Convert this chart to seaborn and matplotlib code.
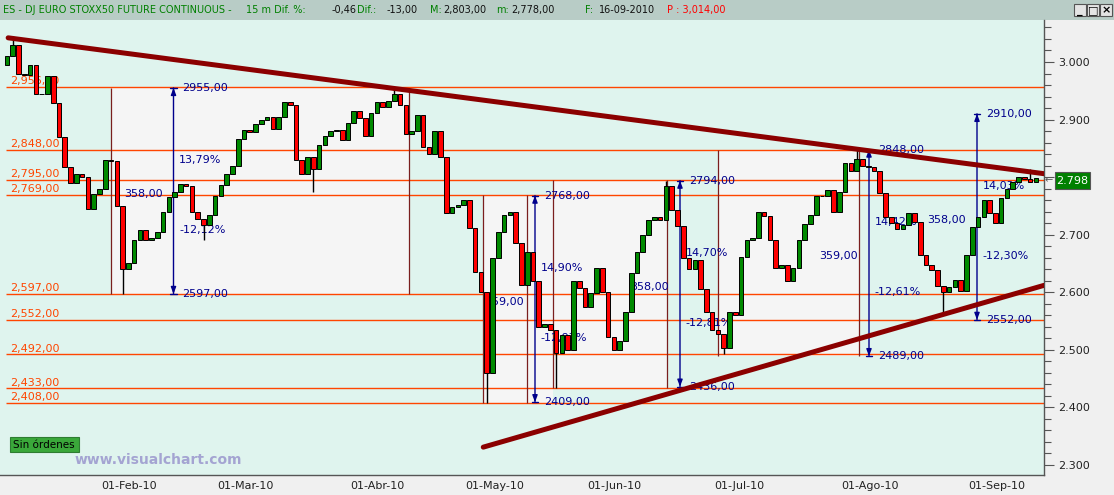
import numpy as np
import pandas as pd
import matplotlib
matplotlib.use("Agg")
import matplotlib.pyplot as plt
import seaborn as sns
from matplotlib import font_manager as fm
from matplotlib.ticker import FuncFormatter, MultipleLocator
from matplotlib.patches import Rectangle

sns.set_style("white")
_names = {f.name for f in fm.fontManager.ttflist}
NARROW = "Liberation Sans Narrow" if "Liberation Sans Narrow" in _names else "DejaVu Sans"
plt.rcParams["font.family"] = [NARROW, "DejaVu Sans"]
FS = 10 if NARROW != "DejaVu Sans" else 8

# ---------------- data ----------------
holidays = ["2010-04-02", "2010-04-05"]
dates = pd.bdate_range("2010-01-08", "2010-09-17").drop(pd.to_datetime(holidays))
month_labels = ["01-Feb-10", "01-Mar-10", "01-Abr-10", "01-May-10",
                "01-Jun-10", "01-Jul-10", "01-Ago-10", "01-Sep-10"]

start_open = 2995
closes = [
    3010, 3030, 2980, 2978, 2995, 2945, 2945, 2975, 2928, 2870,
    2818, 2790, 2805, 2800, 2745, 2770, 2780, 2830, 2828, 2750,
    2640, 2650, 2690, 2708, 2690, 2695, 2705, 2739, 2765, 2775,
    2788, 2784, 2739, 2728, 2717, 2735, 2768, 2786, 2805, 2820,
    2866, 2882, 2878, 2893, 2900, 2905, 2884, 2905, 2930, 2925,
    2830, 2805, 2835, 2815, 2855, 2872, 2880, 2882, 2864, 2894,
    2915, 2902, 2872, 2912, 2930, 2922, 2933, 2945, 2926, 2875,
    2880, 2908, 2852, 2840, 2880, 2835, 2738, 2748, 2752, 2760,
    2712, 2635, 2600, 2460, 2660, 2705, 2735, 2740, 2685, 2612,
    2670, 2620, 2540, 2545, 2535, 2495, 2525, 2500, 2620, 2607,
    2575, 2598, 2642, 2600, 2522, 2500, 2515, 2565, 2633, 2670,
    2700, 2726, 2730, 2726, 2785, 2743, 2715, 2660, 2640, 2656,
    2605, 2565, 2535, 2528, 2503, 2565, 2560, 2662, 2690, 2695,
    2740, 2733, 2690, 2642, 2648, 2620, 2642, 2690, 2718, 2735,
    2768, 2768, 2777, 2740, 2775, 2824, 2810, 2832, 2820, 2817,
    2810, 2772, 2730, 2720, 2710, 2716, 2737, 2722, 2664, 2648,
    2639, 2611, 2601, 2610, 2621, 2602, 2665, 2714, 2730, 2760,
    2737, 2721, 2763, 2780, 2792, 2800, 2796, 2791, 2798,
]
# extreme wick values (day index, price)
wick_days = [1, 20, 34, 53, 67, 83, 95, 114, 124, 147, 162, 177]
wick_vals = [3045, 2597, 2690, 2775, 2955, 2408, 2433, 2794, 2492, 2848, 2560, 2815]

levels = [2956, 2848, 2795, 2769, 2597, 2552, 2492, 2433, 2408]

meas_top = [2955, 2768, 2794, 2848, 2910]
meas_bot = [2597, 2409, 2436, 2489, 2552]
meas_up = ["13,79%", "14,90%", "14,70%", "14,42%", "14,03%"]
meas_diff = ["358,00", "359,00", "358,00", "359,00", "358,00"]
meas_down = ["-12,12%", "-12,97%", "-12,81%", "-12,61%", "-12,30%"]

trend_top_x = [0.2, 179.4]
trend_top_y = [3042, 2806]
trend_bot_x = [82.4, 179.4]
trend_bot_y = [2331, 2612]

last_price = "2.798"
title_parts = [("ES - DJ EURO STOXX50 FUTURE CONTINUOUS -", "g"), ("15 m Dif. %:", "g"),
               ("-0,46", "k"), ("Dif.:", "g"), ("-13,00", "k"), ("M:", "g"),
               ("2,803,00", "k"), ("m:", "g"), ("2,778,00", "k"), ("F:", "g"),
               ("16-09-2010", "k"), ("P : 3,014,00", "r")]

# ---------------- layout helpers ----------------
W, H = 1114, 495
PX0, PXD = 7.0, 5.78          # pixel of day 0, pixels per day
def col(px):
    return (px - PX0) / PXD
def price(py):
    return 3000 - (py - 62) / 0.5757
def fx(px):
    return px / W
def fy(py):
    return 1 - py / H

C_MINT = "#DFF4EE"
C_BOX = "#F5F5F5"
C_LVL = "#FF4500"
C_BROWN = "#7A1E1E"
C_BLUE = "#00008C"
C_TREND = "#8B0000"

fig = plt.figure(figsize=(W / 100, H / 100), dpi=100, facecolor="#F0F0F0")
ax = fig.add_axes([0, fy(475), fx(1044), (475 - 20) / H])
ax.set_facecolor(C_MINT)
ax.set_xlim(col(0), col(1044))
ax.set_ylim(price(475), price(20))

# shaded measurement boxes
boxes = [(111, 409, 2597, 2955), (483, 553, 2408, 2769),
         (553, 667, 2433, 2795), (718, 859, 2489, 2848)]
for x0, x1, y0, y1 in boxes:
    ax.add_patch(Rectangle((col(x0), y0), col(x1) - col(x0), y1 - y0,
                           facecolor=C_BOX, edgecolor="none", zorder=0.5))

# horizontal levels with labels
ax.hlines(levels, col(6), col(1044), color=C_LVL, lw=1.0, zorder=1)
for v in levels:
    ax.text(col(10), v + 1.5, f"{v // 1000},{v % 1000:03d},00", color=C_LVL,
            fontsize=FS, va="bottom", ha="left", zorder=1.2)

# brown verticals
verts = [(111, 2597, 2955), (409, 2597, 2955), (483, 2408, 2769), (527, 2408, 2769),
         (553, 2433, 2795), (667, 2433, 2795), (718, 2489, 2848), (859, 2489, 2848)]
for px, y0, y1 in verts:
    ax.vlines(col(px), y0, y1, color=C_BROWN, lw=0.9, zorder=1.5)

# blue measuring arrows
arrow_px = [173.5, 535, 680, 869, 977]
for px, top, bot, up, diff, down in zip(arrow_px, meas_top, meas_bot, meas_up, meas_diff, meas_down):
    xa = col(px)
    ax.annotate("", xy=(xa, top), xytext=(xa, bot),
                arrowprops=dict(arrowstyle="|-|,widthA=0.25,widthB=0.25", color=C_BLUE, lw=1.0,
                                shrinkA=0, shrinkB=0), zorder=1.6)
    ax.annotate("", xy=(xa, top), xytext=(xa, top - 8),
                arrowprops=dict(arrowstyle="-|>,head_width=0.15,head_length=0.4", color=C_BLUE, lw=1.0,
                                shrinkA=0, shrinkB=0), zorder=1.6)
    ax.annotate("", xy=(xa, bot), xytext=(xa, bot + 8),
                arrowprops=dict(arrowstyle="-|>,head_width=0.15,head_length=0.4", color=C_BLUE, lw=1.0,
                                shrinkA=0, shrinkB=0), zorder=1.6)
    rng = top - bot
    ax.text(xa + 1.5, top, f"{top},00", color=C_BLUE, fontsize=FS, va="center", ha="left", zorder=2)
    ax.text(xa + 1.5, bot, f"{bot},00", color=C_BLUE, fontsize=FS, va="center", ha="left", zorder=2)
    ax.text(xa + 1.0, top - 0.35 * rng, up, color=C_BLUE, fontsize=FS, va="center", ha="left", zorder=2)
    ax.text(xa - 1.9, top - 0.515 * rng, diff, color=C_BLUE, fontsize=FS, va="center", ha="right", zorder=2)
    ax.text(xa + 1.0, top - 0.69 * rng, down, color=C_BLUE, fontsize=FS, va="center", ha="left", zorder=2)

# candles
x = np.arange(len(dates))
c = np.asarray(closes, dtype=float)
o = np.r_[start_open, c[:-1]]
up = c >= o
ax.bar(x[up], (c - o)[up], bottom=o[up], width=0.8, color="#008A00",
       edgecolor="black", linewidth=0.7, zorder=3)
ax.bar(x[~up], (c - o)[~up], bottom=o[~up], width=0.8, color="#FF0000",
       edgecolor="black", linewidth=0.7, zorder=3)
for d, v in zip(wick_days, wick_vals):
    lo, hi = min(o[d], c[d]), max(o[d], c[d])
    ax.vlines(d, min(v, lo), max(v, hi), color="black", lw=1.0, zorder=2.9)

# trendlines
sns.lineplot(x=trend_top_x, y=trend_top_y, ax=ax, color=C_TREND, lw=3.6, zorder=4)
sns.lineplot(x=trend_bot_x, y=trend_bot_y, ax=ax, color=C_TREND, lw=3.6, zorder=4)

# axes styling
for s in ["top", "left"]:
    ax.spines[s].set_visible(False)
for s in ["right", "bottom"]:
    ax.spines[s].set_color("#555555")
    ax.spines[s].set_linewidth(1.0)
ax.yaxis.tick_right()
ax.yaxis.set_major_locator(MultipleLocator(100))
ax.yaxis.set_minor_locator(MultipleLocator(20))
# the 2.800 label is covered by the last-price box in the reference
ax.yaxis.set_major_formatter(FuncFormatter(
    lambda v, _: "" if abs(v - 2800) < 1 else f"{v / 1000:.3f}"))
ax.tick_params(axis="y", which="major", direction="out", length=7, width=0.8,
               color="#555555", labelsize=FS, pad=3, labelcolor="#222222")
ax.tick_params(axis="y", which="minor", direction="out", length=5, width=0.8, color="#555555")

pos = pd.Series(np.arange(len(dates)), index=dates)
firsts = pos.groupby(dates.to_period("M")).first().values[1:]
ax.set_xticks(firsts)
ax.tick_params(axis="x", direction="out", length=10, width=0.8, color="#555555", labelbottom=False)
for p, lab in zip(firsts, month_labels):
    ax.text(p + 0.35, -0.024, lab, transform=ax.get_xaxis_transform(), fontsize=FS,
            color="#222222", va="center", ha="left")
ax.set_xlabel("")
ax.set_ylabel("")

# title bar
fig.add_artist(Rectangle((0, fy(20)), 1, 20 / H, transform=fig.transFigure,
                         facecolor="#B8CCC6", edgecolor="none", zorder=0))
title_x = [3, 246, 332, 357, 387, 430, 443, 496, 511, 585, 599, 667]
cmap = {"g": "#008000", "k": "#111111", "r": "#FF0000"}
for (s, cc), px in zip(title_parts, title_x):
    fig.text(fx(px), fy(10), s, color=cmap[cc], fontsize=FS - 1, va="center", ha="left")
for i, g in enumerate(["_", "□", "×"]):
    bx = 1074 + i * 13
    fig.add_artist(Rectangle((fx(bx), fy(16)), 12 / W, 12 / H, transform=fig.transFigure,
                             facecolor="#E4E4E4", edgecolor="#555555", lw=0.8))
    fig.text(fx(bx + 6), fy(10.5), g, fontsize=8, ha="center", va="center",
             color="black", family="DejaVu Sans", fontweight="bold")

# last price box
fig.add_artist(Rectangle((fx(1055), fy(189)), 35 / W, 17 / H, transform=fig.transFigure,
                         facecolor="#008000", edgecolor="#555555", lw=0.8))
fig.text(fx(1072.5), fy(180.5), last_price, color="white", fontsize=FS, ha="center", va="center")
fig.text(fx(1049), fy(180), "←", color="#555555", fontsize=7, ha="center", va="center",
         family="DejaVu Sans")

# order box and watermark
fig.add_artist(Rectangle((fx(10), fy(452)), 69 / W, 15 / H, transform=fig.transFigure,
                         facecolor="#3AA83A", edgecolor="#2E7D32", lw=0.8))
fig.text(fx(13), fy(444.5), "Sin órdenes", color="black", fontsize=FS - 0.5, ha="left", va="center")
fig.text(fx(75), fy(460), "www.visualchart.com", color="#A4A4D2", fontsize=10,
         fontweight="bold", family="DejaVu Sans", ha="left", va="center")

fig.savefig("out.png", dpi=100, facecolor=fig.get_facecolor())
